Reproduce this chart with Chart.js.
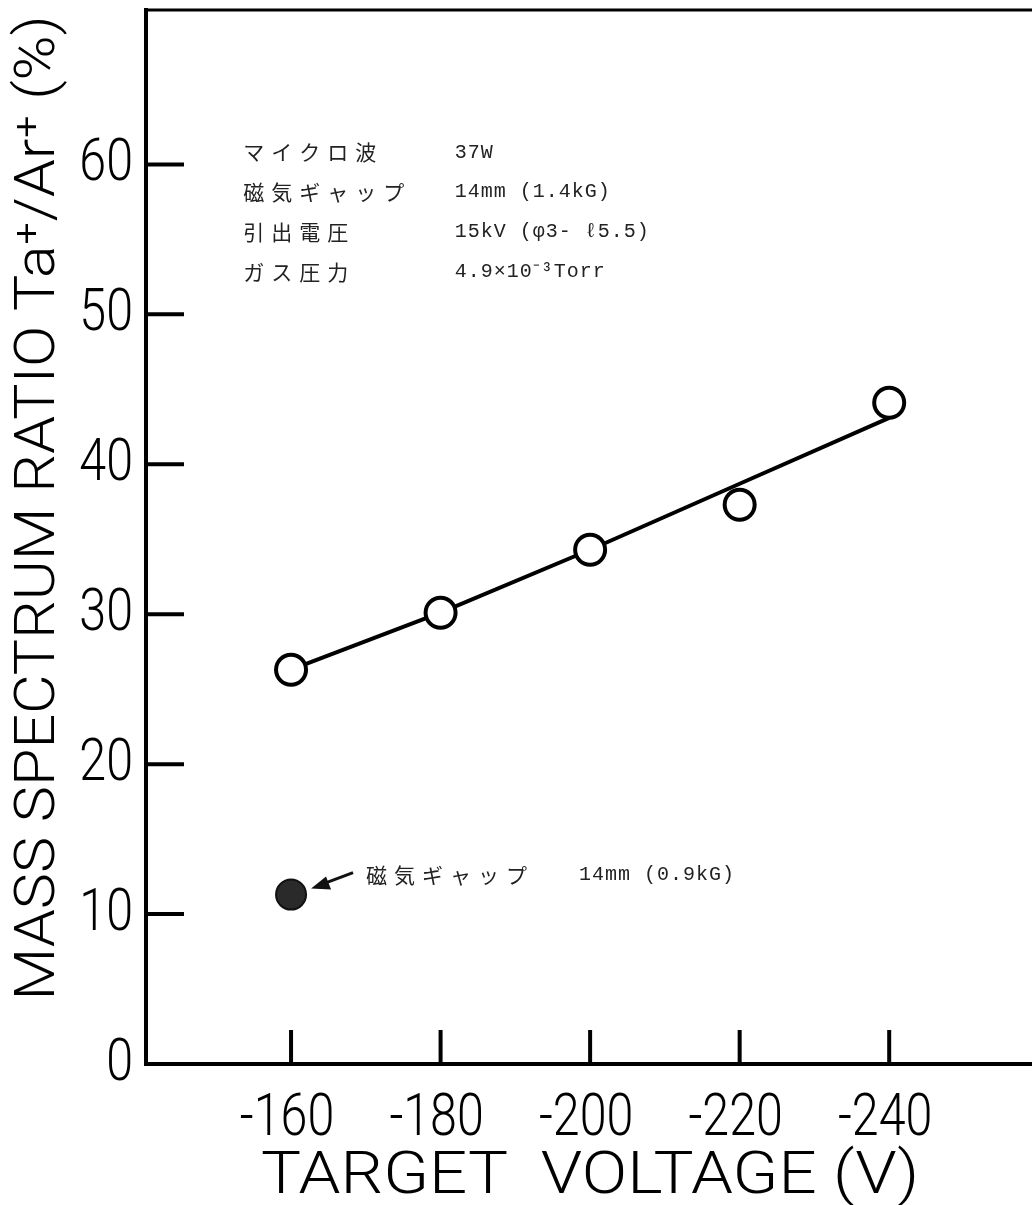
<!DOCTYPE html>
<html>
<head>
<meta charset="utf-8">
<script src="https://cdn.jsdelivr.net/npm/chart.js@4.4.0/dist/chart.umd.min.js"></script>
<style>
  html, body { margin: 0; padding: 0; background: #fff; }
  #wrap { width: 1032px; height: 1205px; }
</style>
</head>
<body>
<div id="wrap"><canvas id="myChart" width="1032" height="1205"></canvas></div>
<script>
// target voltage magnitude (V), shown on the axis as negative values
const voltages = [160, 180, 200, 220, 240];
// Ta+/Ar+ ratio (%) at 1.4 kG, open circles
const ratio14kG = [26.3, 30.1, 34.3, 37.3, 44.1];
// hand-drawn trend line through the open circles
const trendLine = [26.3, 30.1, 34.3, 38.7, 43.1];
// single point at 0.9 kG, filled circle
const voltage09kG = [160];
const ratio09kG = [11.3];

const xTicks = [160, 180, 200, 220, 240];
const yTicks = [0, 10, 20, 30, 40, 50, 60];
const xTitle = 'TARGET  VOLTAGE (V)';
const yTitle = 'MASS SPECTRUM RATIO Ta⁺/Ar⁺ (%)';

const conditions = [
    ['マイクロ波', '37W'],
    ['磁気ギャップ', '14mm (1.4kG)'],
    ['引出電圧', '15kV (φ3- ℓ5.5)'],
    ['ガス圧力', '4.9×10⁻³Torr']
];
const pointNote = ['磁気ギャップ', '14mm (0.9kG)'];

const AXIS_FONT = "300 59px Roboto, 'DejaVu Sans', sans-serif";

// draw text squeezed horizontally, like the condensed lettering of the original
function narrowText(ctx, text, x, y, sx, align) {
    ctx.save();
    ctx.translate(x, y);
    ctx.scale(sx, 1);
    ctx.textAlign = align;
    ctx.fillText(text, 0, 0);
    ctx.restore();
}

// inward ticks, top frame line, axis lettering and the text notes
const framePlugin = {
    id: 'frame',
    afterDraw(chart) {
        const ctx = chart.ctx;
        const area = chart.chartArea;
        const x = chart.scales.x;
        const y = chart.scales.y;
        ctx.save();
        ctx.strokeStyle = '#000';
        ctx.lineCap = 'butt';

        ctx.lineWidth = 3;
        ctx.beginPath();
        ctx.moveTo(area.left - 2, area.top);
        ctx.lineTo(area.right, area.top);
        ctx.stroke();

        ctx.lineWidth = 4;
        yTicks.forEach(v => {
            if (v === 0) return;
            const py = y.getPixelForValue(v);
            ctx.beginPath();
            ctx.moveTo(area.left, py);
            ctx.lineTo(area.left + 38, py);
            ctx.stroke();
        });
        xTicks.forEach(v => {
            const px = x.getPixelForValue(v);
            ctx.beginPath();
            ctx.moveTo(px, area.bottom);
            ctx.lineTo(px, area.bottom - 34);
            ctx.stroke();
        });

        // axis lettering
        ctx.fillStyle = '#000';
        ctx.font = AXIS_FONT;
        ctx.textBaseline = 'middle';
        yTicks.forEach(v => {
            narrowText(ctx, String(v), area.left - 13, y.getPixelForValue(v) + 1, 0.82, 'right');
        });
        xTicks.forEach(v => {
            narrowText(ctx, '-' + v, x.getPixelForValue(v) - 4, area.bottom + 56, 0.82, 'center');
        });
        const xw = ctx.measureText(xTitle).width;
        narrowText(ctx, xTitle, (x.getPixelForValue(160) + x.getPixelForValue(240)) / 2, area.bottom + 114, 658 / xw, 'center');

        ctx.save();
        ctx.font = "300 56px Roboto, 'DejaVu Sans', sans-serif";
        const yw = ctx.measureText(yTitle).width;
        ctx.translate(40, 508);
        ctx.rotate(-Math.PI / 2);
        narrowText(ctx, yTitle, 0, 0, 985 / yw, 'center');
        ctx.restore();

        // conditions block
        ctx.fillStyle = '#222';
        ctx.textBaseline = 'middle';
        const labelX = x.getPixelForValue(153.6);
        const valueX = x.getPixelForValue(181.9);
        conditions.forEach((row, i) => {
            const py = y.getPixelForValue(60.8 - i * 2.65);
            ctx.font = "21px 'Noto Sans CJK JP'";
            ctx.letterSpacing = '7px';
            ctx.fillText(row[0], labelX, py);
            ctx.letterSpacing = '1px';
            ctx.font = "20px 'Liberation Mono', 'Noto Sans CJK JP'";
            ctx.fillText(row[1], valueX, py);
        });

        // note for the filled point, with arrow
        const p = chart.getDatasetMeta(2).data[0];
        ctx.strokeStyle = '#111';
        ctx.lineWidth = 3;
        ctx.beginPath();
        ctx.moveTo(p.x + 62, p.y - 22);
        ctx.lineTo(p.x + 30, p.y - 10);
        ctx.stroke();
        ctx.fillStyle = '#111';
        ctx.beginPath();
        ctx.moveTo(p.x + 20, p.y - 6);
        ctx.lineTo(p.x + 35, p.y - 18);
        ctx.lineTo(p.x + 40, p.y - 5);
        ctx.closePath();
        ctx.fill();

        ctx.fillStyle = '#222';
        ctx.font = "21px 'Noto Sans CJK JP'";
        ctx.letterSpacing = '7px';
        ctx.fillText(pointNote[0], p.x + 75, p.y - 20);
        ctx.letterSpacing = '1px';
        ctx.font = "20px 'Liberation Mono', 'Noto Sans CJK JP'";
        ctx.fillText(pointNote[1], p.x + 288, p.y - 20);
        ctx.restore();
    }
};

new Chart(document.getElementById('myChart'), {
    type: 'line',
    data: {
        datasets: [
            {
                label: 'trend',
                data: voltages.map((v, i) => ({x: v, y: trendLine[i]})),
                borderColor: '#000',
                borderWidth: 4,
                pointRadius: 0,
                fill: false,
                tension: 0,
                order: 3
            },
            {
                label: '1.4kG',
                data: voltages.map((v, i) => ({x: v, y: ratio14kG[i]})),
                showLine: false,
                pointStyle: 'circle',
                pointRadius: 15,
                pointBorderWidth: 4,
                pointBorderColor: '#000',
                pointBackgroundColor: '#fff',
                order: 1
            },
            {
                label: '0.9kG',
                data: voltage09kG.map((v, i) => ({x: v, y: ratio09kG[i]})),
                showLine: false,
                pointStyle: 'circle',
                pointRadius: 15,
                pointBorderWidth: 2,
                pointBorderColor: '#111',
                pointBackgroundColor: '#2a2a2a',
                order: 1
            }
        ]
    },
    options: {
        responsive: false,
        animation: false,
        events: [],
        layout: { autoPadding: false, padding: { top: 10, right: 0, left: 0, bottom: 0 } },
        plugins: {
            legend: { display: false },
            tooltip: { enabled: false }
        },
        scales: {
            x: {
                type: 'linear',
                min: 140.6,
                max: 259.1,
                afterBuildTicks: s => { s.ticks = xTicks.map(v => ({value: v})); },
                afterFit: s => { s.height = 141; s.paddingLeft = 0; s.paddingRight = 0; },
                grid: { display: false, drawTicks: false },
                border: { display: true, color: '#000', width: 4 },
                ticks: { display: false }
            },
            y: {
                type: 'linear',
                min: 0,
                max: 70.3,
                afterBuildTicks: s => { s.ticks = yTicks.map(v => ({value: v})); },
                afterFit: s => { s.width = 146; s.paddingTop = 0; s.paddingBottom = 0; },
                grid: { display: false, drawTicks: false },
                border: { display: true, color: '#000', width: 4 },
                ticks: { display: false }
            }
        }
    },
    plugins: [framePlugin]
});
</script>
</body>
</html>
